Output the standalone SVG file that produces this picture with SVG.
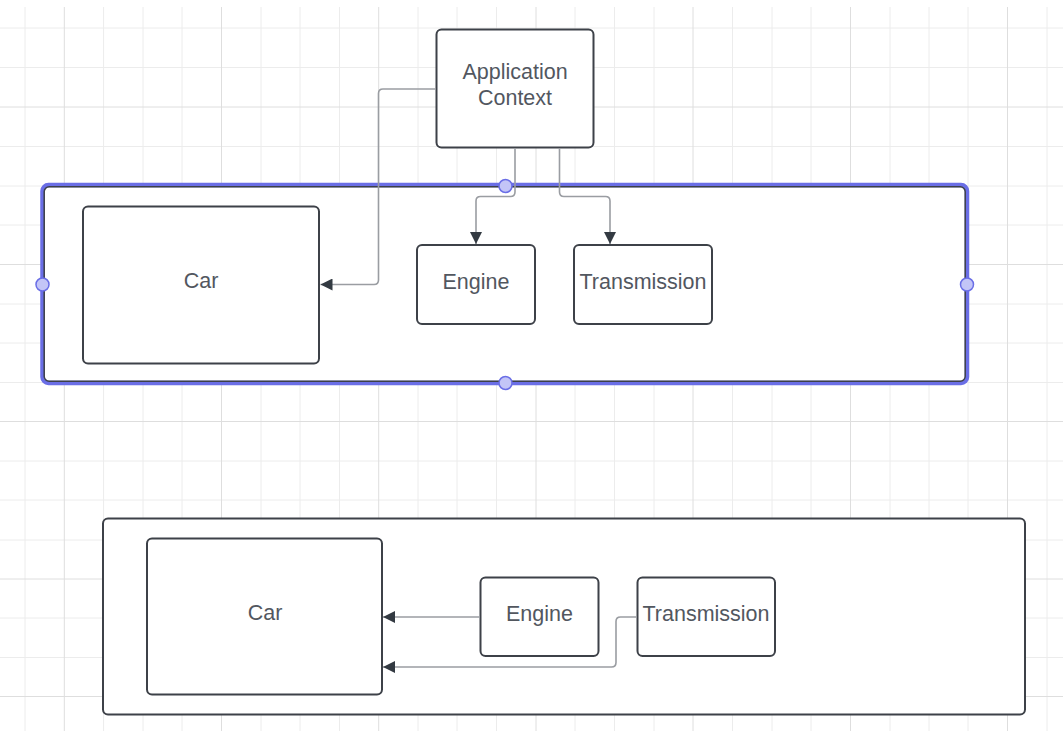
<svg xmlns="http://www.w3.org/2000/svg" width="1063" height="749" viewBox="0 0 1063 749">
<defs>
<style>
.minor{stroke:#ececec;stroke-width:1}
.major{stroke:#dedede;stroke-width:1}
.node{fill:#ffffff;stroke:#3d4148;stroke-width:2}
.lbl{font-family:"Liberation Sans",Arial,sans-serif;font-size:21.5px;fill:#52575f;text-anchor:middle;dominant-baseline:central}
.conn{fill:none;stroke:#9a9da2;stroke-width:1.6}
.handle{fill:#c3c5f7;stroke:#6a6ee6;stroke-width:1.5}
</style>
<marker id="arr" viewBox="0 0 10 10" refX="10" refY="5" markerWidth="15" markerHeight="12" markerUnits="userSpaceOnUse" orient="auto">
<path d="M0,0 L10,5 L0,10 Z" fill="#333a42"/>
</marker>
</defs>
<rect x="0" y="0" width="1063" height="749" fill="#ffffff"/>
<g id="grid">
<g class="minor">
<line x1="25" y1="7" x2="25" y2="731"/><line x1="103.6" y1="7" x2="103.6" y2="731"/><line x1="143" y1="7" x2="143" y2="731"/><line x1="182" y1="7" x2="182" y2="731"/>
<line x1="261" y1="7" x2="261" y2="731"/><line x1="300" y1="7" x2="300" y2="731"/><line x1="339.5" y1="7" x2="339.5" y2="731"/>
<line x1="418" y1="7" x2="418" y2="731"/><line x1="457" y1="7" x2="457" y2="731"/><line x1="496.5" y1="7" x2="496.5" y2="731"/>
<line x1="575" y1="7" x2="575" y2="731"/><line x1="614.5" y1="7" x2="614.5" y2="731"/><line x1="654" y1="7" x2="654" y2="731"/>
<line x1="732.5" y1="7" x2="732.5" y2="731"/><line x1="772" y1="7" x2="772" y2="731"/><line x1="811" y1="7" x2="811" y2="731"/>
<line x1="890" y1="7" x2="890" y2="731"/><line x1="929" y1="7" x2="929" y2="731"/><line x1="968" y1="7" x2="968" y2="731"/>
<line x1="1047" y1="7" x2="1047" y2="731"/>
<line x1="0" y1="28" x2="1063" y2="28"/><line x1="0" y1="67.5" x2="1063" y2="67.5"/><line x1="0" y1="146.5" x2="1063" y2="146.5"/>
<line x1="0" y1="186" x2="1063" y2="186"/><line x1="0" y1="225" x2="1063" y2="225"/><line x1="0" y1="304" x2="1063" y2="304"/>
<line x1="0" y1="343" x2="1063" y2="343"/><line x1="0" y1="382.5" x2="1063" y2="382.5"/><line x1="0" y1="461" x2="1063" y2="461"/>
<line x1="0" y1="500" x2="1063" y2="500"/><line x1="0" y1="540" x2="1063" y2="540"/><line x1="0" y1="618" x2="1063" y2="618"/>
<line x1="0" y1="657.5" x2="1063" y2="657.5"/>
</g>
<g class="major">
<line x1="64.3" y1="7" x2="64.3" y2="731"/><line x1="221.5" y1="7" x2="221.5" y2="731"/><line x1="378.7" y1="7" x2="378.7" y2="731"/>
<line x1="536" y1="7" x2="536" y2="731"/><line x1="693" y1="7" x2="693" y2="731"/><line x1="850.5" y1="7" x2="850.5" y2="731"/>
<line x1="1007.5" y1="7" x2="1007.5" y2="731"/>
<line x1="0" y1="107" x2="1063" y2="107"/><line x1="0" y1="264.5" x2="1063" y2="264.5"/><line x1="0" y1="421.5" x2="1063" y2="421.5"/>
<line x1="0" y1="579" x2="1063" y2="579"/><line x1="0" y1="696.5" x2="1063" y2="696.5"/>
</g>
</g>
<g id="container-top">
<rect x="42.5" y="185" width="924.5" height="198" rx="6" fill="#ffffff" stroke="#6a6ee6" stroke-width="4.5"/>
<rect x="44.2" y="186.7" width="921" height="194.6" rx="5" fill="none" stroke="#3d4148" stroke-width="1.5"/>
</g>
<g id="container-bottom">
<rect x="103" y="518.5" width="922" height="196" rx="5" class="node"/>
</g>
<g id="app-context">
<rect x="436.5" y="29.5" width="157" height="118" rx="5" class="node"/>
<text class="lbl" x="515" y="71.5">Application</text>
<text class="lbl" x="515" y="97.5">Context</text>
</g>
<g id="car-top">
<rect x="83" y="206.5" width="236" height="157" rx="5" class="node"/>
<text class="lbl" x="201" y="280.5">Car</text>
</g>
<g id="engine-top">
<rect x="417" y="245" width="118" height="79" rx="5" class="node"/>
<text class="lbl" x="476" y="281.5">Engine</text>
</g>
<g id="transmission-top">
<rect x="574" y="245" width="138" height="79" rx="5" class="node"/>
<text class="lbl" x="643" y="281.5">Transmission</text>
</g>
<g id="car-bottom">
<rect x="147" y="538.5" width="235" height="156" rx="5" class="node"/>
<text class="lbl" x="265" y="612.5">Car</text>
</g>
<g id="engine-bottom">
<rect x="480.5" y="577.5" width="118" height="78.5" rx="5" class="node"/>
<text class="lbl" x="539.5" y="613.5">Engine</text>
</g>
<g id="transmission-bottom">
<rect x="637.5" y="577.5" width="137.5" height="78.5" rx="5" class="node"/>
<text class="lbl" x="706" y="613.5">Transmission</text>
</g>
<g id="connectors">
<path class="conn" d="M436,89 L383,89 Q378.5,89 378.5,93.5 L378.5,280 Q378.5,284.5 374,284.5 L320.5,284.5" marker-end="url(#arr)"/>
<path class="conn" d="M515,148 L515,192 Q515,196.5 510.5,196.5 L480.5,196.5 Q476,196.5 476,201 L476,244" marker-end="url(#arr)"/>
<path class="conn" d="M559.5,148 L559.5,192 Q559.5,196.5 564,196.5 L605.5,196.5 Q610,196.5 610,201 L610,244" marker-end="url(#arr)"/>
<path class="conn" d="M480,617 L383,617" marker-end="url(#arr)"/>
<path class="conn" d="M637,617 L620.5,617 Q616,617 616,621.5 L616,662.5 Q616,667 611.5,667 L383,667" marker-end="url(#arr)"/>
</g>
<g id="handles">
<circle class="handle" cx="505.5" cy="186" r="6.5"/>
<circle class="handle" cx="505.5" cy="383" r="6.5"/>
<circle class="handle" cx="42.5" cy="284.5" r="6.5"/>
<circle class="handle" cx="967" cy="284.5" r="6.5"/>
</g>
</svg>
